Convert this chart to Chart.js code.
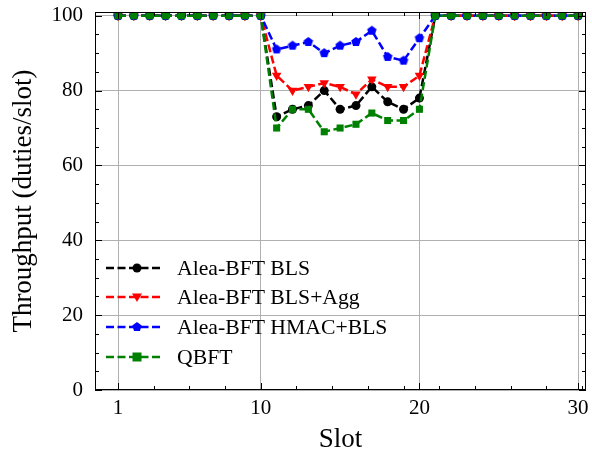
<!DOCTYPE html>
<html>
<head>
<meta charset="utf-8">
<script src="https://cdn.jsdelivr.net/npm/chart.js@4"></script>
<style>
  html, body { margin: 0; padding: 0; background: #fff; }
  #chart { display: block; }
</style>
</head>
<body>
<canvas id="chart" width="592" height="457"></canvas>
<script>
// Data
const slots = [1, 2, 3, 4, 5, 6, 7, 8, 9, 10, 11, 12, 13, 14, 15, 16, 17, 18, 19, 20, 21, 22, 23, 24, 25, 26, 27, 28, 29, 30]
const aleaBls = [100, 100, 100, 100, 100, 100, 100, 100, 100, 100, 73, 75, 76, 80, 75, 76, 81, 77, 75, 78, 100, 100, 100, 100, 100, 100, 100, 100, 100, 100]
const aleaBlsAgg = [100, 100, 100, 100, 100, 100, 100, 100, 100, 100, 84, 80, 81, 82, 81, 79, 83, 81, 81, 84, 100, 100, 100, 100, 100, 100, 100, 100, 100, 100]
const aleaHmacBls = [100, 100, 100, 100, 100, 100, 100, 100, 100, 100, 91, 92, 93, 90, 92, 93, 96, 89, 88, 94, 100, 100, 100, 100, 100, 100, 100, 100, 100, 100]
const qbft = [100, 100, 100, 100, 100, 100, 100, 100, 100, 100, 70, 75, 75, 69, 70, 71, 74, 72, 72, 75, 100, 100, 100, 100, 100, 100, 100, 100, 100, 100]
const labels = ["Alea-BFT BLS", "Alea-BFT BLS+Agg", "Alea-BFT HMAC+BLS", "QBFT"]
const xTicks = [1, 10, 20, 30]
const yTicks = [0, 20, 40, 60, 80, 100]

const FONT = "'Liberation Serif', 'Times New Roman', serif"
const Chart = window.Chart

// pentagon marker for the HMAC series
function pentagon(color, r) {
  const c = document.createElement("canvas")
  const s = Math.ceil(r * 2 + 2)
  c.width = s
  c.height = s
  const g = c.getContext("2d")
  g.fillStyle = color
  g.beginPath()
  for (let i = 0; i < 5; i++) {
    const a = -Math.PI / 2 + (i * 2 * Math.PI) / 5
    const px = s / 2 + r * Math.cos(a)
    const py = s / 2 + r * Math.sin(a)
    if (i === 0) g.moveTo(px, py)
    else g.lineTo(px, py)
  }
  g.closePath()
  g.fill()
  return c
}

const pentaBlue = pentagon("#0000ff", 5)

function series(label, values, color, style, extra) {
  return Object.assign({
    label: label,
    data: slots.map((s, i) => ({ x: s, y: values[i] })),
    borderColor: color,
    backgroundColor: color,
    borderWidth: 2.5,
    borderDash: [8, 3.5],
    pointStyle: style,
    pointRadius: 4.5,
    pointBorderWidth: 0,
    pointHoverRadius: 4.5,
    tension: 0,
    fill: false,
  }, extra || {})
}

const datasets = [
  series(labels[0], aleaBls, "#000000", "circle", { order: 4 }),
  series(labels[1], aleaBlsAgg, "#ff0000", "triangle", { order: 3, pointRotation: 180, pointRadius: 5.5 }),
  series(labels[2], aleaHmacBls, "#0000ff", pentaBlue, { order: 2 }),
  series(labels[3], qbft, "#008000", "rect", { order: 1, pointRadius: 5 }),
]

// frame, inward ticks and legend inside the plot
const framePlugin = {
  id: "frame",
  afterDraw(chart) {
    const { ctx, chartArea: a, scales } = chart
    const xs = scales.x
    const ys = scales.y
    ctx.save()
    ctx.strokeStyle = "#000"
    ctx.lineWidth = 1
    ctx.strokeRect(a.left + 0.5, a.top + 0.5, a.right - a.left - 1, a.bottom - a.top - 1)

    const tick = (x1, y1, x2, y2) => {
      ctx.beginPath()
      ctx.moveTo(x1, y1)
      ctx.lineTo(x2, y2)
      ctx.stroke()
    }
    // x ticks
    for (let v = 1; v <= xs.max; v += 2.25) {
      const px = Math.round(xs.getPixelForValue(v)) + 0.5
      tick(px, a.bottom, px, a.bottom - 4)
      tick(px, a.top, px, a.top + 4)
    }
    xTicks.forEach((v) => {
      const px = Math.round(xs.getPixelForValue(v)) + 0.5
      tick(px, a.bottom, px, a.bottom - 7)
      tick(px, a.top, px, a.top + 7)
    })
    // y ticks
    for (let v = 0; v <= ys.max; v += 5) {
      const py = Math.round(ys.getPixelForValue(v)) + 0.5
      const len = v % 20 === 0 ? 7 : 4
      tick(a.left, py, a.left + len, py)
      tick(a.right, py, a.right - len, py)
    }

    // legend
    ctx.font = "21.7px " + FONT
    ctx.textBaseline = "middle"
    ctx.textAlign = "left"
    const rowY = [268, 297, 327, 357]
    chart.data.datasets.forEach((ds, i) => {
      const y = rowY[i]
      ctx.strokeStyle = ds.borderColor
      ctx.lineWidth = ds.borderWidth
      ctx.setLineDash(ds.borderDash)
      tick(106, y, 160, y)
      ctx.setLineDash([])
      ctx.fillStyle = ds.backgroundColor
      const cx = 137
      if (ds.pointStyle === "circle") {
        ctx.beginPath()
        ctx.arc(cx, y, 4.5, 0, Math.PI * 2)
        ctx.fill()
      } else if (ds.pointStyle === "triangle") {
        ctx.beginPath()
        ctx.moveTo(cx - 5, y - 3.5)
        ctx.lineTo(cx + 5, y - 3.5)
        ctx.lineTo(cx, y + 5)
        ctx.closePath()
        ctx.fill()
      } else if (ds.pointStyle === "rect") {
        ctx.fillRect(cx - 4.5, y - 4.5, 9, 9)
      } else {
        ctx.drawImage(ds.pointStyle, cx - ds.pointStyle.width / 2, y - ds.pointStyle.height / 2)
      }
      ctx.fillStyle = "#000"
      ctx.fillText(ds.label, 177, y + 1)
    })
    ctx.restore()
  },
}

new Chart(document.getElementById("chart"), {
  type: "line",
  data: { datasets: datasets },
  options: {
    responsive: false,
    animation: false,
    devicePixelRatio: 1,
    layout: { padding: { top: 12, right: 6, left: 0, bottom: 0 } },
    plugins: {
      legend: { display: false },
      tooltip: { enabled: false },
    },
    scales: {
      x: {
        type: "linear",
        min: -0.45,
        max: 30.5,
        afterBuildTicks: (scale) => {
          scale.ticks = xTicks.map((v) => ({ value: v }))
        },
        afterFit: (scale) => {
          scale.height = 67
          scale.paddingLeft = 0
          scale.paddingRight = 0
        },
        ticks: {
          color: "#000",
          font: { family: FONT, size: 21 },
          padding: 6,
          maxRotation: 0,
        },
        grid: { color: "#b0b0b0", lineWidth: 1, drawTicks: false },
        border: { display: false },
        title: {
          display: true,
          text: "Slot",
          color: "#000",
          font: { family: FONT, size: 27 },
          padding: { top: 0, bottom: 1 },
        },
      },
      y: {
        min: 0,
        max: 101,
        afterBuildTicks: (scale) => {
          scale.ticks = yTicks.map((v) => ({ value: v }))
        },
        afterFit: (scale) => {
          scale.width = 95
          scale.paddingTop = 0
          scale.paddingBottom = 0
        },
        ticks: {
          color: "#000",
          font: { family: FONT, size: 21 },
          padding: 12,
        },
        grid: { color: "#b0b0b0", lineWidth: 1, drawTicks: false },
        border: { display: false },
        title: {
          display: true,
          text: "Throughput (duties/slot)",
          color: "#000",
          font: { family: FONT, size: 27 },
          padding: { top: 8, bottom: 0 },
        },
      },
    },
  },
  plugins: [framePlugin],
})
</script>
</body>
</html>
